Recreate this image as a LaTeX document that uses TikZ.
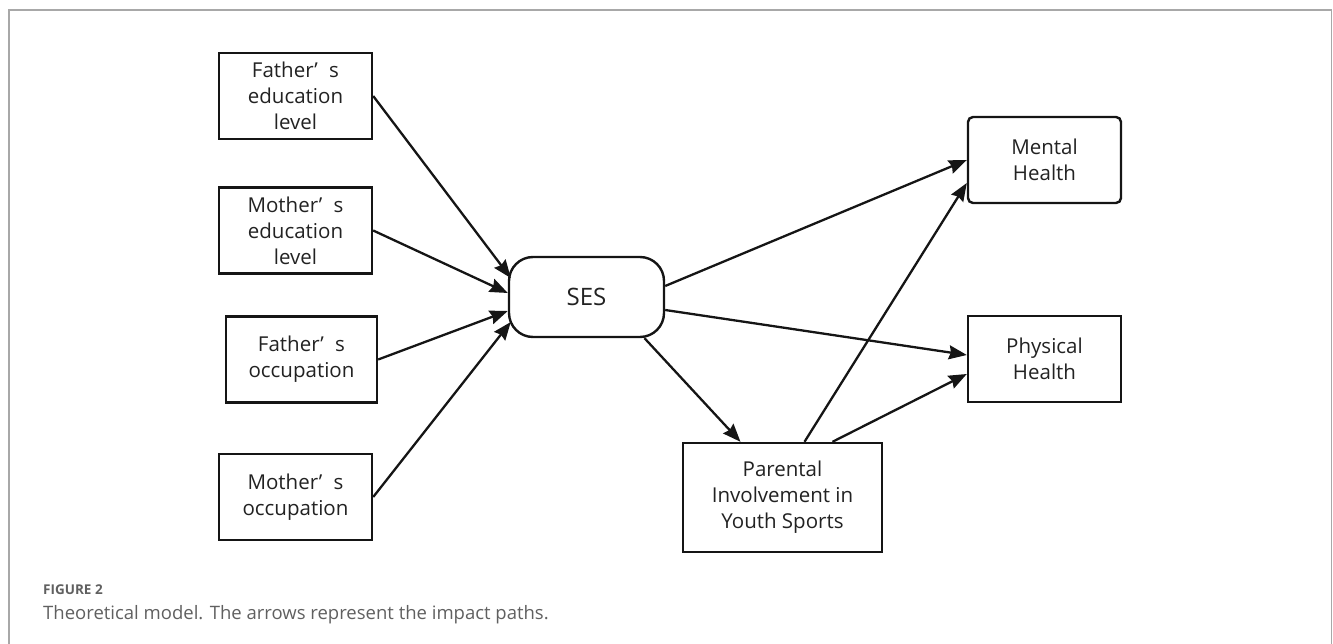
\documentclass[tikz,border=0pt]{standalone}
\usepackage{fontspec}
\setmainfont{Open Sans}
\newfontfamily\capfont{Open Sans}
\usetikzlibrary{arrows.meta,calc}
\definecolor{txt}{HTML}{222222}
\definecolor{ln}{HTML}{151515}
\definecolor{framec}{HTML}{A8A8A8}
\definecolor{capc}{HTML}{606060}
\begin{document}
\begin{tikzpicture}[x=1pt,y=-1pt,
  box/.style={draw=ln, line width=2.4pt, rectangle, align=center, text=txt,
    font=\fontsize{20.5}{26}\selectfont, inner sep=0pt},
  conn/.style={draw=ln, line width=2.3pt, -{Stealth[length=18pt,width=14pt,inset=2pt]}}]
\useasboundingbox (0,0) rectangle (1333,644);
\draw[framec, line width=1.5pt] (9,644) -- (9,10) -- (1331.5,10) -- (1331.5,644);
% left column
\node[box, minimum width=153pt, minimum height=86pt] (fe) at (295.5,96) {Father’\hspace{0.55em}s\\education\\level};
\node[box, minimum width=153pt, minimum height=86pt] (me) at (295.5,230.5) {Mother’\hspace{0.55em}s\\education\\level};
\node[box, minimum width=151pt, minimum height=86pt] (fo) at (301.5,359.5) {Father’\hspace{0.55em}s\\occupation};
\node[box, minimum width=153pt, minimum height=86pt] (mo) at (295.5,497) {Mother’\hspace{0.55em}s\\occupation};
% centre
\node[box, rounded corners=24pt, minimum width=155pt, minimum height=80pt, font=\fontsize{24}{28}\selectfont] (ses) at (586.5,297) {SES};
% right
\node[box, rounded corners=5pt, minimum width=153pt, minimum height=86pt] (mh) at (1044.5,160) {Mental\\Health};
\node[box, minimum width=153pt, minimum height=86pt] (ph) at (1044.5,359) {Physical\\Health};
\node[box, minimum width=199pt, minimum height=109pt] (pi) at (782.5,497.5) {Parental\\Involvement in\\Youth Sports};
% connectors
\draw[conn] (fe.east) -- ($(ses.west)+(3,-19)$);
\draw[conn] (me.east) -- ($(ses.west)+(0,-4)$);
\draw[conn] (fo.east) -- ($(ses.west)+(0,14)$);
\draw[conn] (mo.east) -- ($(ses.west)+(3,25)$);
\draw[conn] ($(ses.east)+(0,-11)$) -- (mh.west);
\draw[conn] ($(ses.east)+(0,13)$) -- ($(ph.west)+(0,-4)$);
\draw[conn] ($(ses.south)+(58,0)$) -- ($(pi.north)+(-42,0)$);
\draw[conn] ($(pi.north)+(22,0)$) -- ($(mh.west)+(0,23)$);
\draw[conn] ($(pi.north)+(50,0)$) -- ($(ph.west)+(0,15)$);
% caption
\node[anchor=base west, inner sep=0pt, text=capc, font=\capfont\bfseries\fontsize{13.5}{16}\selectfont] (fig) at (43,594) {FIGURE 2};
\node[anchor=base west, inner sep=0pt, text=capc, font=\capfont\fontsize{18.5}{22}\selectfont] (cap) at (43,619) {Theoretical model. The arrows represent the impact paths.};
\end{tikzpicture}
\end{document}
